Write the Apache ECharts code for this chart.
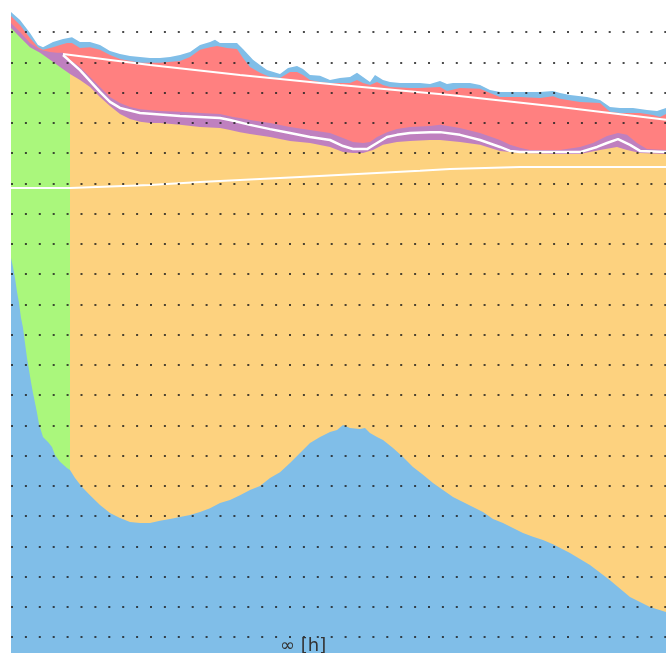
<!DOCTYPE html>
<html>
<head>
<meta charset="utf-8">
<script src="https://cdn.jsdelivr.net/npm/echarts@6/dist/echarts.min.js"></script>
<style>html,body{margin:0;padding:0;background:#fff}#c{width:667px;height:653px}</style>
</head>
<body>
<div id="c"></div>
<script>
// x: time index, y: value (grid step 10)
const lightTop = [[0,216.6],[9,214.0],[19,209.7],[27,205.7],[32,205.0],[42,206.7],[52,207.7],[61,208.3],[69,206.7],[79,206.7],[89,205.7],[99,203.7],[109,202.7],[119,202.1],[129,201.7],[139,201.4],[149,201.4],[159,201.7],[169,202.4],[179,203.4],[189,205.7],[199,206.7],[204,207.4],[209,206.4],[226,206.4],[232,204.4],[242,200.8],[249,199.1],[256,197.4],[269,196.1],[277,198.1],[286,198.8],[292,197.8],[299,195.8],[309,195.5],[319,194.1],[329,194.8],[339,195.1],[346,196.5],[352,195.1],[359,193.5],[364,195.8],[372,194.1],[379,193.5],[389,193.1],[409,193.1],[419,192.8],[429,193.8],[436,192.8],[442,193.1],[459,193.1],[469,192.5],[479,190.8],[489,190.2],[529,190.2],[542,190.5],[549,189.8],[559,189.2],[576,188.5],[589,187.5],[599,185.2],[609,184.9],[622,184.9],[636,184.2],[646,183.9],[655,184.9]];
const redTop = [[0,215.3],[9,212.3],[19,208.0],[27,205.0],[32,204.1],[42,205.0],[49,205.7],[56,206.4],[61,206.4],[69,204.7],[79,205.0],[89,204.1],[99,202.4],[109,201.1],[129,199.8],[149,199.8],[169,200.4],[179,201.7],[189,204.1],[199,205.0],[206,205.4],[216,204.7],[226,204.4],[232,201.4],[239,198.4],[249,196.5],[259,195.1],[269,194.8],[279,196.8],[286,196.8],[292,195.8],[299,194.1],[309,193.5],[319,193.1],[339,193.1],[346,194.1],[352,193.1],[359,192.5],[366,193.5],[372,192.5],[379,191.8],[399,191.5],[409,191.5],[429,191.8],[436,190.5],[449,191.5],[469,191.2],[479,189.8],[489,188.5],[509,188.5],[529,188.2],[542,188.8],[549,187.9],[569,186.9],[589,186.5],[599,183.6],[609,183.2],[629,183.2],[642,182.6],[649,181.9],[655,182.9]];
const purpleTop = [[0,213.0],[9,210.0],[19,206.4],[29,204.1],[39,203.4],[46,203.1],[52,203.1],[59,200.8],[69,198.4],[79,195.1],[89,191.8],[99,188.5],[109,186.5],[119,185.2],[129,184.5],[149,183.9],[169,183.6],[189,183.2],[209,182.9],[222,181.9],[229,181.6],[239,180.9],[259,179.9],[279,178.6],[299,177.6],[319,176.6],[332,175.0],[342,173.6],[352,173.3],[359,173.6],[366,175.3],[376,176.9],[386,177.9],[399,178.6],[419,178.9],[429,179.3],[449,178.3],[469,176.6],[489,174.3],[499,172.7],[509,171.7],[519,171.0],[549,171.0],[569,172.0],[582,173.3],[596,175.6],[607,176.6],[616,176.0],[626,173.3],[636,171.3],[655,171.0]];
const greenTop = [[0,211.3],[9,208.3],[19,205.0],[29,203.1],[39,200.8],[49,198.4],[59,196.1]];
const orangeTop = [[59,196.1],[69,194.1],[79,191.8],[89,188.5],[99,185.5],[109,182.9],[119,181.2],[129,180.3],[139,179.9],[149,179.9],[169,179.3],[189,178.6],[209,178.3],[219,177.6],[229,176.9],[239,176.3],[259,175.3],[279,174.0],[299,173.3],[319,172.0],[332,170.3],[342,170.0],[352,170.0],[362,171.0],[372,172.7],[386,173.6],[399,174.0],[419,174.3],[429,174.3],[449,173.6],[469,172.7],[489,170.7],[509,170.0],[542,169.7],[569,169.7],[589,171.0],[606,172.0],[616,171.0],[629,170.0],[655,169.7]];
const blueTop = [[0,135.3],[2,132.3],[4,128.7],[6,124.1],[8,120.4],[10,115.5],[12,112.2],[14,107.2],[16,102.2],[18,98.3],[20,94.3],[22,90.7],[24,87.4],[26,84.1],[28,80.4],[32,76.1],[37,74.5],[41,72.8],[44,70.2],[49,67.9],[56,65.9],[59,65.2],[64,62.6],[71,59.6],[79,56.9],[89,53.6],[99,51.0],[109,49.3],[119,48.0],[129,47.7],[139,47.7],[149,48.4],[159,49.0],[169,49.7],[179,50.3],[189,51.3],[199,52.6],[209,54.3],[219,55.3],[229,56.9],[239,58.6],[249,59.9],[259,62.6],[269,64.5],[279,67.5],[289,70.8],[299,74.1],[309,76.1],[319,77.8],[326,78.4],[332,80.1],[339,79.1],[349,78.8],[354,79.1],[359,77.4],[366,76.1],[372,75.1],[382,72.5],[392,69.5],[402,66.2],[412,63.6],[422,60.9],[432,58.6],[442,56.3],[452,54.6],[462,53.0],[472,51.3],[482,49.0],[492,47.7],[502,46.0],[512,44.4],[522,43.1],[532,42.1],[542,40.7],[559,37.8],[579,33.8],[599,28.8],[619,23.2],[639,19.9],[655,18.3]];
const line1 = [[52,202.7],[139,199.1],[229,195.8],[329,192.5],[439,189.2],[549,185.2],[655,181.0]];
const line2 = [[52,202.4],[69,197.4],[89,190.2],[99,186.9],[109,184.9],[129,183.2],[169,182.2],[209,181.6],[219,180.9],[239,179.3],[259,177.9],[279,176.6],[299,175.3],[319,174.3],[332,172.3],[342,171.3],[356,171.3],[366,173.3],[376,175.3],[386,176.0],[399,176.6],[419,176.9],[429,176.9],[449,176.0],[469,174.3],[489,172.0],[499,170.7],[509,170.3],[569,170.3],[586,172.0],[596,173.3],[607,174.6],[619,172.7],[629,170.7],[655,170.3]];
const line3 = [[0,158.4],[59,158.4],[139,159.4],[189,160.4],[289,162.1],[409,164.1],[439,164.7],[509,165.4],[655,165.4]];
const axisName = '∞ [h]';

const chart = echarts.init(document.getElementById('c'), null, {renderer: 'canvas'});
function area(data, color) {
  return {type: 'line', data: data, symbol: 'none', smooth: false,
    lineStyle: {width: 0}, areaStyle: {color: color, opacity: 1}, silent: true, animation: false};
}
function wline(data, w) {
  return {type: 'line', data: data, symbol: 'none', smooth: false,
    lineStyle: {width: w, color: '#ffffff'}, silent: true, animation: false};
}
chart.setOption({
  animation: false,
  backgroundColor: '#ffffff',
  grid: {left: 11, top: 1.75, width: 655, height: 665.5, containLabel: false, outerBoundsMode: 'none'},
  xAxis: {type: 'value', min: 0, max: 655, axisLine: {show: false}, axisTick: {show: false},
    axisLabel: {show: false}, splitLine: {show: false}},
  yAxis: {type: 'value', min: 0, max: 220, interval: 10, z: 10,
    axisLine: {show: false}, axisTick: {show: false}, axisLabel: {show: false},
    splitLine: {show: true, showMaxLine: false, showMinLine: false,
      lineStyle: {color: 'rgba(30,30,30,0.8)', width: 2, type: [2, 11.9]}}},
  graphic: [{type: 'text', left: 280, top: 637, z: 20,
    style: {text: axisName, fontSize: 18, fill: '#333', fontFamily: 'DejaVu Sans'}}],
  series: [
    area(lightTop, '#80bee8'),
    area(redTop, '#ff8080'),
    area(purpleTop, '#bf80bf'),
    area(greenTop, '#aaf77c'),
    area(orangeTop, '#fdd27f'),
    area(blueTop, '#80bee8'),
    wline(line1, 2),
    wline(line2, 2.5),
    wline(line3, 2)
  ]
});
</script>
</body>
</html>
